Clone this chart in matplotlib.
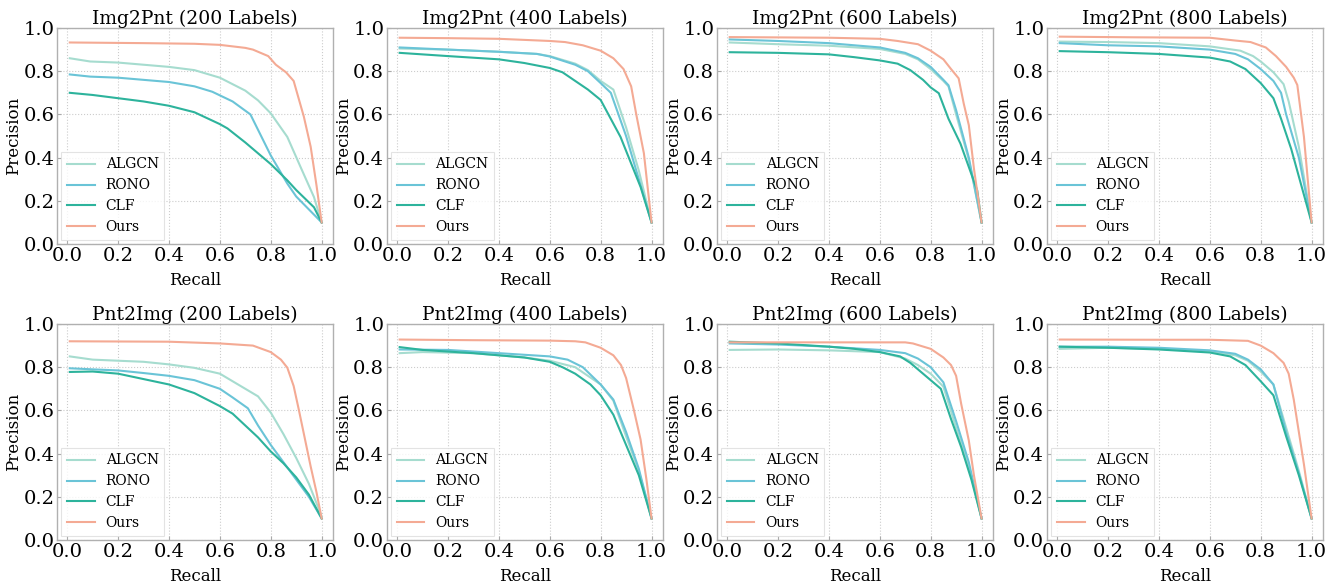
import numpy as np
import matplotlib
matplotlib.use('Agg')
import matplotlib.pyplot as plt

plt.rcParams['font.family'] = ['DejaVu Serif']

methods = ['ALGCN', 'RONO', 'CLF', 'Ours']
colors = ['#a6dccf', '#6ac4d7', '#2db39c', '#f4aa94']

titles = ['Img2Pnt (200 Labels)', 'Img2Pnt (400 Labels)', 'Img2Pnt (600 Labels)', 'Img2Pnt (800 Labels)',
          'Pnt2Img (200 Labels)', 'Pnt2Img (400 Labels)', 'Pnt2Img (600 Labels)', 'Pnt2Img (800 Labels)']

# Img2Pnt 200
i2p_200_algcn_r = [0.01, 0.09, 0.2, 0.3, 0.4, 0.5, 0.6, 0.7, 0.75, 0.8, 0.865, 0.917, 0.97, 1.0]
i2p_200_algcn_p = [0.86, 0.845, 0.84, 0.83, 0.82, 0.805, 0.77, 0.71, 0.665, 0.605, 0.496, 0.357, 0.217, 0.1]
i2p_200_rono_r = [0.01, 0.09, 0.2, 0.3, 0.4, 0.5, 0.57, 0.65, 0.72, 0.8, 0.865, 0.9, 0.95, 1.0]
i2p_200_rono_p = [0.785, 0.775, 0.77, 0.76, 0.75, 0.73, 0.705, 0.66, 0.6, 0.41, 0.28, 0.22, 0.16, 0.1]
i2p_200_clf_r = [0.01, 0.1, 0.2, 0.3, 0.4, 0.5, 0.6, 0.63, 0.7, 0.75, 0.8, 0.865, 0.9, 0.97, 1.0]
i2p_200_clf_p = [0.70, 0.69, 0.675, 0.66, 0.64, 0.61, 0.555, 0.535, 0.47, 0.42, 0.37, 0.295, 0.25, 0.17, 0.1]
i2p_200_ours_r = [0.01, 0.3, 0.5, 0.6, 0.7, 0.73, 0.79, 0.82, 0.86, 0.89, 0.93, 0.957, 0.98, 1.0]
i2p_200_ours_p = [0.933, 0.93, 0.927, 0.922, 0.908, 0.9, 0.87, 0.83, 0.795, 0.755, 0.59, 0.45, 0.27, 0.1]

# Img2Pnt 400
i2p_400_algcn_r = [0.01, 0.2, 0.4, 0.55, 0.6, 0.7, 0.75, 0.8, 0.85, 0.9, 0.95, 1.0]
i2p_400_algcn_p = [0.905, 0.9, 0.89, 0.88, 0.87, 0.835, 0.805, 0.755, 0.715, 0.54, 0.34, 0.1]
i2p_400_rono_r = [0.01, 0.2, 0.4, 0.55, 0.6, 0.7, 0.75, 0.8, 0.84, 0.9, 0.95, 1.0]
i2p_400_rono_p = [0.91, 0.9, 0.89, 0.88, 0.868, 0.83, 0.8, 0.745, 0.7, 0.5, 0.3, 0.1]
i2p_400_clf_r = [0.01, 0.2, 0.4, 0.5, 0.6, 0.65, 0.7, 0.75, 0.8, 0.878, 0.957, 1.0]
i2p_400_clf_p = [0.885, 0.87, 0.855, 0.838, 0.815, 0.795, 0.755, 0.715, 0.667, 0.496, 0.264, 0.1]
i2p_400_ours_r = [0.01, 0.2, 0.4, 0.5, 0.6, 0.66, 0.73, 0.8, 0.85, 0.89, 0.92, 0.94, 0.97, 1.0]
i2p_400_ours_p = [0.955, 0.953, 0.95, 0.945, 0.94, 0.935, 0.92, 0.895, 0.86, 0.81, 0.73, 0.6, 0.42, 0.1]

# Img2Pnt 600
i2p_600_algcn_r = [0.01, 0.2, 0.4, 0.6, 0.7, 0.75, 0.8, 0.85, 0.87, 0.9, 0.95, 1.0]
i2p_600_algcn_p = [0.933, 0.925, 0.918, 0.903, 0.88, 0.855, 0.81, 0.755, 0.73, 0.6, 0.39, 0.1]
i2p_600_rono_r = [0.01, 0.2, 0.4, 0.6, 0.7, 0.75, 0.8, 0.85, 0.87, 0.9, 0.95, 1.0]
i2p_600_rono_p = [0.947, 0.94, 0.93, 0.91, 0.885, 0.86, 0.82, 0.76, 0.735, 0.62, 0.4, 0.1]
i2p_600_clf_r = [0.01, 0.2, 0.4, 0.5, 0.6, 0.67, 0.72, 0.77, 0.8, 0.832, 0.87, 0.917, 0.983, 1.0]
i2p_600_clf_p = [0.888, 0.885, 0.878, 0.865, 0.85, 0.835, 0.805, 0.76, 0.725, 0.698, 0.58, 0.465, 0.248, 0.1]
i2p_600_ours_r = [0.01, 0.4, 0.6, 0.67, 0.75, 0.8, 0.85, 0.88, 0.91, 0.93, 0.95, 0.97, 1.0]
i2p_600_ours_p = [0.958, 0.955, 0.95, 0.94, 0.925, 0.895, 0.855, 0.81, 0.767, 0.65, 0.55, 0.35, 0.1]

# Img2Pnt 800
i2p_800_algcn_r = [0.01, 0.2, 0.4, 0.6, 0.72, 0.77, 0.8, 0.85, 0.89, 0.91, 0.95, 1.0]
i2p_800_algcn_p = [0.937, 0.935, 0.93, 0.915, 0.895, 0.87, 0.845, 0.795, 0.74, 0.66, 0.45, 0.1]
i2p_800_rono_r = [0.01, 0.2, 0.4, 0.6, 0.7, 0.75, 0.8, 0.85, 0.88, 0.9, 0.95, 1.0]
i2p_800_rono_p = [0.93, 0.92, 0.915, 0.9, 0.88, 0.855, 0.81, 0.755, 0.7, 0.6, 0.4, 0.1]
i2p_800_clf_r = [0.01, 0.2, 0.4, 0.6, 0.68, 0.74, 0.8, 0.85, 0.88, 0.92, 0.96, 1.0]
i2p_800_clf_p = [0.893, 0.888, 0.88, 0.863, 0.845, 0.81, 0.745, 0.675, 0.58, 0.44, 0.27, 0.1]
i2p_800_ours_r = [0.01, 0.3, 0.6, 0.7, 0.76, 0.82, 0.86, 0.9, 0.93, 0.944, 0.97, 1.0]
i2p_800_ours_p = [0.96, 0.957, 0.955, 0.942, 0.935, 0.91, 0.87, 0.82, 0.77, 0.736, 0.496, 0.1]

# Pnt2Img 200
p2i_200_algcn_r = [0.01, 0.1, 0.2, 0.3, 0.4, 0.5, 0.6, 0.7, 0.75, 0.8, 0.85, 0.9, 0.95, 1.0]
p2i_200_algcn_p = [0.85, 0.835, 0.83, 0.825, 0.813, 0.797, 0.77, 0.7, 0.665, 0.59, 0.49, 0.38, 0.26, 0.11]
p2i_200_rono_r = [0.01, 0.1, 0.2, 0.3, 0.4, 0.5, 0.6, 0.65, 0.71, 0.75, 0.8, 0.85, 0.9, 0.95, 1.0]
p2i_200_rono_p = [0.795, 0.79, 0.785, 0.773, 0.76, 0.74, 0.7, 0.66, 0.61, 0.53, 0.44, 0.36, 0.28, 0.2, 0.1]
p2i_200_clf_r = [0.01, 0.1, 0.2, 0.3, 0.4, 0.5, 0.6, 0.65, 0.7, 0.75, 0.8, 0.85, 0.9, 0.95, 1.0]
p2i_200_clf_p = [0.778, 0.78, 0.77, 0.745, 0.72, 0.68, 0.62, 0.585, 0.53, 0.475, 0.41, 0.355, 0.29, 0.21, 0.1]
p2i_200_ours_r = [0.01, 0.4, 0.6, 0.73, 0.8, 0.84, 0.865, 0.89, 0.91, 0.957, 0.98, 1.0]
p2i_200_ours_p = [0.92, 0.918, 0.91, 0.9, 0.87, 0.835, 0.798, 0.713, 0.605, 0.34, 0.22, 0.1]

# Pnt2Img 400
p2i_400_algcn_r = [0.01, 0.1, 0.3, 0.5, 0.6, 0.7, 0.75, 0.8, 0.85, 0.9, 0.95, 1.0]
p2i_400_algcn_p = [0.865, 0.87, 0.865, 0.845, 0.83, 0.8, 0.76, 0.72, 0.645, 0.48, 0.32, 0.1]
p2i_400_rono_r = [0.01, 0.2, 0.4, 0.6, 0.67, 0.73, 0.8, 0.85, 0.9, 0.95, 1.0]
p2i_400_rono_p = [0.882, 0.88, 0.865, 0.85, 0.835, 0.8, 0.72, 0.65, 0.5, 0.33, 0.1]
p2i_400_clf_r = [0.01, 0.1, 0.3, 0.5, 0.6, 0.65, 0.7, 0.76, 0.8, 0.85, 0.9, 0.95, 1.0]
p2i_400_clf_p = [0.893, 0.88, 0.865, 0.845, 0.825, 0.8, 0.77, 0.72, 0.67, 0.58, 0.44, 0.3, 0.1]
p2i_400_ours_r = [0.01, 0.3, 0.6, 0.7, 0.74, 0.8, 0.85, 0.88, 0.9, 0.93, 0.957, 0.98, 1.0]
p2i_400_ours_p = [0.928, 0.925, 0.923, 0.92, 0.915, 0.89, 0.855, 0.81, 0.75, 0.605, 0.465, 0.28, 0.1]

# Pnt2Img 600
p2i_600_algcn_r = [0.01, 0.2, 0.4, 0.6, 0.7, 0.75, 0.8, 0.85, 0.9, 0.95, 1.0]
p2i_600_algcn_p = [0.88, 0.882, 0.878, 0.87, 0.84, 0.81, 0.77, 0.71, 0.52, 0.34, 0.1]
p2i_600_rono_r = [0.01, 0.2, 0.4, 0.6, 0.7, 0.75, 0.8, 0.85, 0.9, 0.95, 1.0]
p2i_600_rono_p = [0.91, 0.905, 0.895, 0.88, 0.865, 0.84, 0.8, 0.73, 0.55, 0.36, 0.1]
p2i_600_clf_r = [0.01, 0.2, 0.4, 0.5, 0.6, 0.68, 0.72, 0.8, 0.84, 0.88, 0.92, 0.96, 1.0]
p2i_600_clf_p = [0.918, 0.91, 0.895, 0.885, 0.87, 0.85, 0.82, 0.74, 0.7, 0.56, 0.43, 0.28, 0.1]
p2i_600_ours_r = [0.01, 0.4, 0.7, 0.73, 0.8, 0.85, 0.88, 0.9, 0.92, 0.95, 0.97, 1.0]
p2i_600_ours_p = [0.915, 0.915, 0.915, 0.91, 0.885, 0.845, 0.81, 0.76, 0.63, 0.46, 0.3, 0.1]

# Pnt2Img 800
p2i_800_algcn_r = [0.01, 0.2, 0.4, 0.6, 0.7, 0.75, 0.8, 0.85, 0.9, 0.95, 1.0]
p2i_800_algcn_p = [0.885, 0.89, 0.885, 0.875, 0.855, 0.83, 0.78, 0.72, 0.52, 0.32, 0.1]
p2i_800_rono_r = [0.01, 0.2, 0.4, 0.6, 0.7, 0.75, 0.8, 0.85, 0.9, 0.95, 1.0]
p2i_800_rono_p = [0.895, 0.895, 0.89, 0.878, 0.862, 0.835, 0.79, 0.72, 0.5, 0.31, 0.1]
p2i_800_clf_r = [0.01, 0.2, 0.4, 0.6, 0.68, 0.74, 0.8, 0.85, 0.9, 0.95, 1.0]
p2i_800_clf_p = [0.895, 0.89, 0.882, 0.868, 0.85, 0.81, 0.735, 0.67, 0.48, 0.3, 0.1]
p2i_800_ours_r = [0.01, 0.4, 0.6, 0.75, 0.8, 0.85, 0.89, 0.91, 0.93, 0.95, 0.97, 1.0]
p2i_800_ours_p = [0.928, 0.927, 0.927, 0.922, 0.9, 0.865, 0.82, 0.77, 0.65, 0.5, 0.35, 0.1]

panels = [
    [(i2p_200_algcn_r, i2p_200_algcn_p), (i2p_200_rono_r, i2p_200_rono_p), (i2p_200_clf_r, i2p_200_clf_p), (i2p_200_ours_r, i2p_200_ours_p)],
    [(i2p_400_algcn_r, i2p_400_algcn_p), (i2p_400_rono_r, i2p_400_rono_p), (i2p_400_clf_r, i2p_400_clf_p), (i2p_400_ours_r, i2p_400_ours_p)],
    [(i2p_600_algcn_r, i2p_600_algcn_p), (i2p_600_rono_r, i2p_600_rono_p), (i2p_600_clf_r, i2p_600_clf_p), (i2p_600_ours_r, i2p_600_ours_p)],
    [(i2p_800_algcn_r, i2p_800_algcn_p), (i2p_800_rono_r, i2p_800_rono_p), (i2p_800_clf_r, i2p_800_clf_p), (i2p_800_ours_r, i2p_800_ours_p)],
    [(p2i_200_algcn_r, p2i_200_algcn_p), (p2i_200_rono_r, p2i_200_rono_p), (p2i_200_clf_r, p2i_200_clf_p), (p2i_200_ours_r, p2i_200_ours_p)],
    [(p2i_400_algcn_r, p2i_400_algcn_p), (p2i_400_rono_r, p2i_400_rono_p), (p2i_400_clf_r, p2i_400_clf_p), (p2i_400_ours_r, p2i_400_ours_p)],
    [(p2i_600_algcn_r, p2i_600_algcn_p), (p2i_600_rono_r, p2i_600_rono_p), (p2i_600_clf_r, p2i_600_clf_p), (p2i_600_ours_r, p2i_600_ours_p)],
    [(p2i_800_algcn_r, p2i_800_algcn_p), (p2i_800_rono_r, p2i_800_rono_p), (p2i_800_clf_r, p2i_800_clf_p), (p2i_800_ours_r, p2i_800_ours_p)],
]

fig = plt.figure(figsize=(13.27, 5.86), dpi=100)

lefts = [0.043, 0.2916, 0.5403, 0.789]
bottoms = [0.5836, 0.0785]
w, h = 0.208, 0.3686

ticks = [0.0, 0.2, 0.4, 0.6, 0.8, 1.0]
for k in range(8):
    row, col = divmod(k, 4)
    ax = fig.add_axes([lefts[col], bottoms[row], w, h])
    for (r, p), name, c in zip(panels[k], methods, colors):
        ax.plot(r, p, color=c, lw=1.5, label=name)
    ax.set_xlim(-0.04, 1.045)
    ax.set_ylim(0, 1)
    ax.set_xticks(ticks)
    ax.set_yticks(ticks)
    ax.set_xticklabels(['%.1f' % t for t in ticks])
    ax.set_yticklabels(['%.1f' % t for t in ticks])
    ax.tick_params(direction='in', labelsize=14, length=3, pad=2, color='#aaaaaa')
    ax.grid(True, linestyle=':', color='#cccccc', linewidth=0.8)
    ax.set_axisbelow(True)
    for s in ax.spines.values():
        s.set_color('#b0b0b0')
        s.set_linewidth(1.0)
    ax.set_title(titles[k], fontsize=13.5, pad=2)
    ax.set_xlabel('Recall', fontsize=12, labelpad=5)
    ax.set_ylabel('Precision', fontsize=12, labelpad=1)
    leg = ax.legend(loc='lower left', fontsize=10, frameon=True, fancybox=False,
                    handlelength=2.0, borderaxespad=0.3, labelspacing=0.5)
    leg.get_frame().set_edgecolor('#dddddd')
    leg.get_frame().set_linewidth(0.8)

fig.savefig('out.png', dpi=100)
